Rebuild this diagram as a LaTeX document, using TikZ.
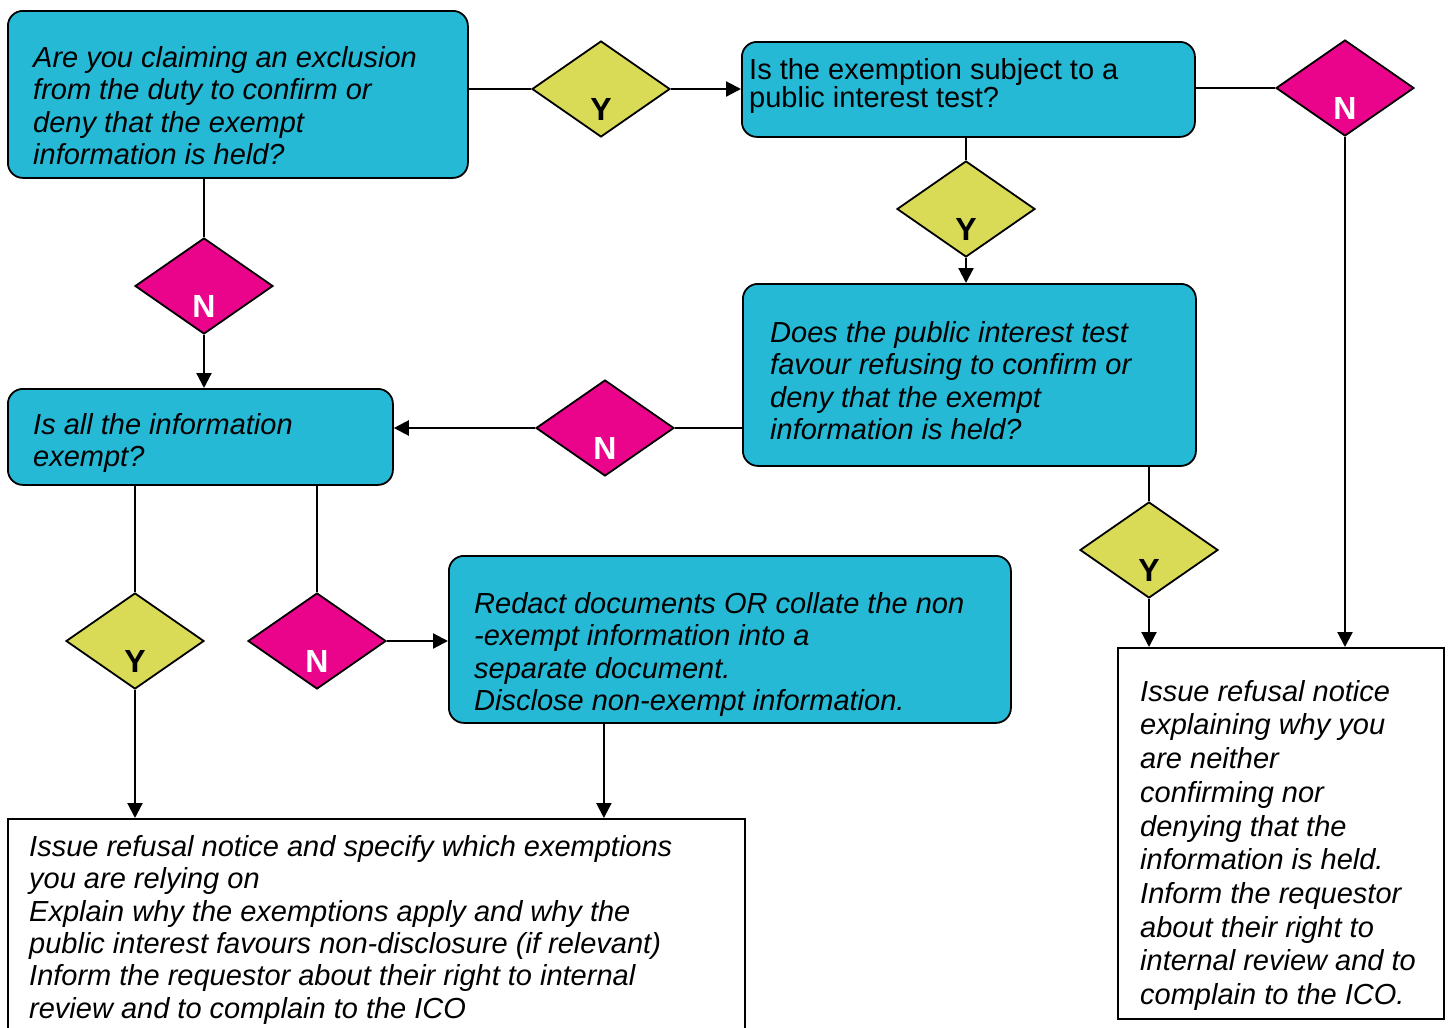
\documentclass[tikz,border=0pt]{standalone}
\usepackage{fontspec}
\setmainfont{Liberation Sans}
\usetikzlibrary{shapes.geometric, arrows.meta}
\definecolor{boxcyan}{RGB}{38,185,214}
\definecolor{yesgreen}{RGB}{217,219,87}
\definecolor{nomagenta}{RGB}{234,4,140}
\tikzset{
        >={Triangle[length=15pt,width=15pt]}, % filled triangle heads
        link/.style={line width=2.2pt}, % the connectors
        question/.style={draw, line width=1.8pt, rounded corners=15pt, fill=boxcyan, anchor=north west, inner sep=0pt},
        outcome/.style={draw, line width=1.8pt, fill=white, anchor=north west, inner sep=0pt},
        boxtext/.style={anchor=north west, inner sep=0pt, align=left, font=\fontsize{29}{32.4}\selectfont\itshape},
        ydiam/.style={diamond, draw, line width=1.8pt, fill=yesgreen, minimum width=138pt, minimum height=96pt, inner sep=0pt,
                label={[font=\fontsize{32}{32}\selectfont\bfseries, yshift=-20pt]center:Y}},
        ndiam/.style={diamond, draw, line width=1.8pt, fill=nomagenta, minimum width=138pt, minimum height=96pt, inner sep=0pt,
                label={[font=\fontsize{32}{32}\selectfont\bfseries, text=white, yshift=-20pt]center:N}},
}

\begin{document}
\begin{tikzpicture}[x=1pt, y=-1pt]
     \useasboundingbox (0,0) rectangle (1449,1028);
     \clip (0,0) rectangle (1449,1028);
     % boxes
     \node[question, minimum width=460pt, minimum height=167pt] (qExcl) at (7,10) {};
     \node[question, minimum width=453pt, minimum height=95pt] (qSubj) at (741,41) {};
     \node[question, minimum width=453pt, minimum height=182pt] (qPit) at (742,283) {};
     \node[question, minimum width=385pt, minimum height=96pt] (qAll) at (7,388) {};
     \node[question, minimum width=562pt, minimum height=167pt] (qRedact) at (448,555) {};
     \node[outcome, minimum width=737pt, minimum height=240pt] (issueE) at (7,818) {};
     \node[outcome, minimum width=326pt, minimum height=371pt] (issueF) at (1117,647) {};
     % texts
     \node[boxtext] (qExclTxt) at (33,46) {Are you claiming an exclusion\\from the duty to confirm or\\deny that the exempt\\information is held?};
     \node[boxtext, font=\fontsize{29}{25.5}\selectfont] (qSubjTxt) at (749,58) {Is the exemption subject to a\\public interest test?};
     \node[boxtext] (qPitTxt) at (770,321) {Does the public interest test\\favour refusing to confirm or\\deny that the exempt\\information is held?};
     \node[boxtext] (qAllTxt) at (33,413) {Is all the information\\exempt?};
     \node[boxtext] (qRedactTxt) at (474,592) {Redact documents OR collate the non\\-exempt information into a\\separate document.\\Disclose non-exempt information.};
     \node[boxtext] (issueETxt) at (29,835) {Issue refusal notice and specify which exemptions\\you are relying on\\Explain why the exemptions apply and why the\\public interest favours non-disclosure (if relevant)\\Inform the requestor about their right to internal\\review and to complain to the ICO};
     \node[boxtext, font=\fontsize{29}{33.7}\selectfont\itshape] (issueFTxt) at (1140,680) {Issue refusal notice\\explaining why you\\are neither\\confirming nor\\denying that the\\information is held.\\Inform the requestor\\about their right to\\internal review and to\\complain to the ICO.};
     % decisions
     \node[ydiam] (y1) at (601,89) {};
     \node[ndiam] (n1) at (1345,88) {};
     \node[ydiam] (y2) at (966,209) {};
     \node[ndiam] (n3) at (204,286) {};
     \node[ndiam] (n2) at (605,428) {};
     \node[ydiam] (y3) at (135,641) {};
     \node[ndiam] (n4) at (317,641) {};
     \node[ydiam] (y4) at (1149,550) {};
     % connectors
     \draw[link] (y1.west -| qExcl.east) -- (y1.west);
     \draw[link, ->] (y1.east) -- (y1.east -| qSubj.west);
     \draw[link] (n1.west -| qSubj.east) -- (n1.west);
     \draw[link, ->] (n1.south) -- (n1.south |- issueF.north);
     \draw[link] (y2.north |- qSubj.south) -- (y2.north);
     \draw[link, ->] (y2.south) -- (y2.south |- qPit.north);
     \draw[link] (n3.north |- qExcl.south) -- (n3.north);
     \draw[link, ->] (n3.south) -- (n3.south |- qAll.north);
     \draw[link] (n2.east -| qPit.west) -- (n2.east);
     \draw[link, ->] (n2.west) -- (n2.west -| qAll.east);
     \draw[link] (y4.north |- qPit.south) -- (y4.north);
     \draw[link, ->] (y4.south) -- (y4.south |- issueF.north);
     \draw[link] (y3.north |- qAll.south) -- (y3.north);
     \draw[link, ->] (y3.south) -- (y3.south |- issueE.north);
     \draw[link] (n4.north |- qAll.south) -- (n4.north);
     \draw[link, ->] (n4.east) -- (n4.east -| qRedact.west);
     \draw[link, ->] ([xshift=-126pt]qRedact.south) -- ([xshift=-126pt]qRedact.south |- issueE.north);
\end{tikzpicture}
\end{document}
